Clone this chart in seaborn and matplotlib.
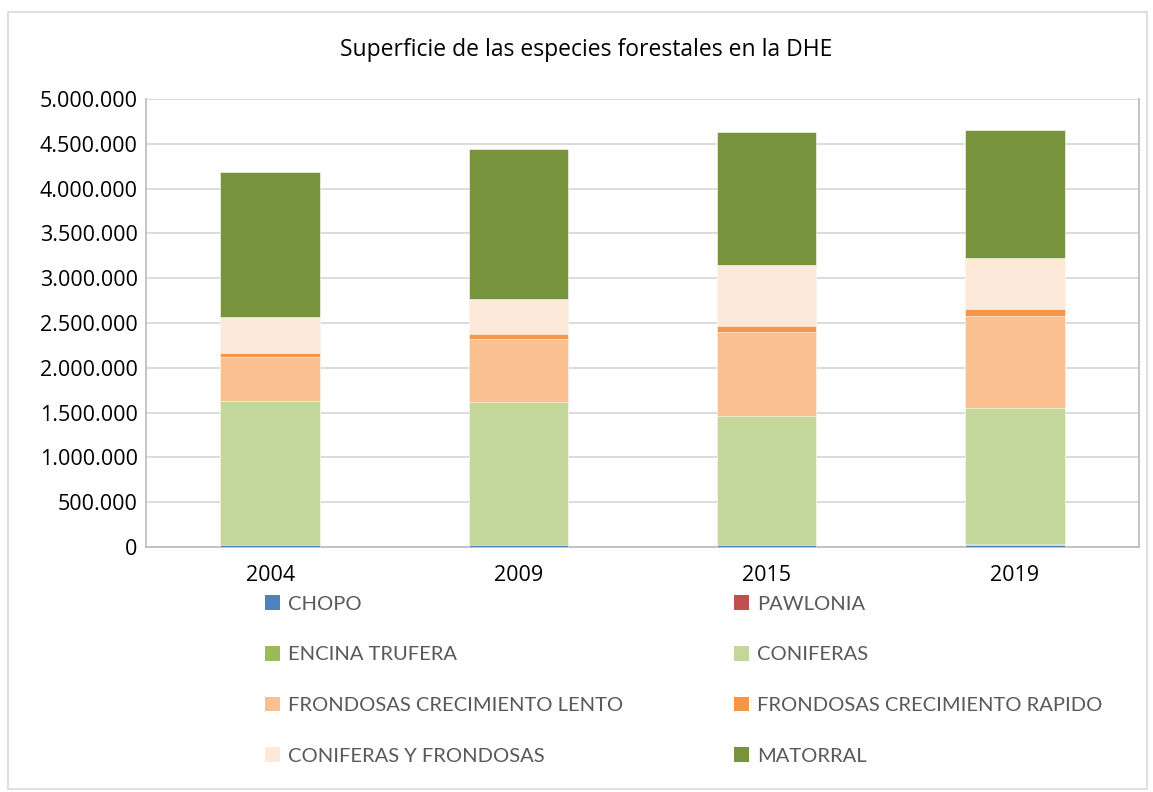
import pandas as pd
import matplotlib.pyplot as plt
import seaborn as sns
from matplotlib.patches import Patch, Rectangle
from matplotlib.ticker import FuncFormatter

# Data (ha)
years = ["2004", "2009", "2015", "2019"]
chopo = [20000, 20000, 20000, 22000]
pawlonia = [0, 0, 100, 200]
encina_trufera = [1000, 2000, 4000, 8000]
coniferas = [1610000, 1600000, 1442000, 1518000]
frond_lento = [494000, 696000, 937000, 1033000]
frond_rapido = [45000, 59000, 67000, 72000]
conif_frond = [395000, 391000, 677000, 569000]
matorral = [1621000, 1674000, 1485000, 1432000]

series_names = ["CHOPO", "PAWLONIA", "ENCINA TRUFERA", "CONIFERAS",
                "FRONDOSAS CRECIMIENTO LENTO", "FRONDOSAS CRECIMIENTO RAPIDO",
                "CONIFERAS Y FRONDOSAS", "MATORRAL"]
colors = ["#4F81BD", "#C0504D", "#9BBB59", "#C4D79B",
          "#FAC090", "#F79646", "#FDE9D9", "#77933C"]

df = pd.DataFrame({
    "CHOPO": chopo,
    "PAWLONIA": pawlonia,
    "ENCINA TRUFERA": encina_trufera,
    "CONIFERAS": coniferas,
    "FRONDOSAS CRECIMIENTO LENTO": frond_lento,
    "FRONDOSAS CRECIMIENTO RAPIDO": frond_rapido,
    "CONIFERAS Y FRONDOSAS": conif_frond,
    "MATORRAL": matorral,
}, index=years)
cum = df[series_names].cumsum(axis=1)

sns.set_style("white")
plt.rcParams["font.family"] = ["Open Sans", "DejaVu Sans"]

fig = plt.figure(figsize=(11.53, 7.92), dpi=100)
ax = fig.add_axes([0.1266, 0.3093, 0.8613, 0.5657])

# stacked bars: draw cumulative totals from top down
for name, col in reversed(list(zip(series_names, colors))):
    sns.barplot(x=years, y=cum[name].values, color=col, width=0.4, saturation=1,
                edgecolor="white", linewidth=0.4, ax=ax, zorder=3)

ax.set_ylim(0, 5000000)
ax.set_yticks(range(0, 5000001, 500000))
ax.yaxis.set_major_formatter(FuncFormatter(lambda v, p: f"{int(v):,}".replace(",", ".")))
ax.grid(axis="y", color="#D9D9D9", linewidth=1.3, zorder=0)
ax.set_axisbelow(True)
for side in ["left", "right", "bottom"]:
    ax.spines[side].set_color("#BFBFBF")
    ax.spines[side].set_linewidth(1.3)
ax.spines["top"].set_visible(False)
ax.tick_params(axis="both", length=0, labelsize=15.5, colors="black", pad=6)
ax.tick_params(axis="x", pad=13)
ax.set_xlabel("")
ax.set_ylabel("")

fig.text(0.5087, 0.937, "Superficie de las especies forestales en la DHE",
         ha="center", va="center", fontsize=16.5, color="black")

# legend filled row by row like the original
order = [0, 2, 4, 6, 1, 3, 5, 7]
handles = [Patch(facecolor=colors[i], edgecolor="none") for i in order]
labels = [series_names[i] for i in order]
fig.legend(handles, labels, ncol=2, loc="upper left",
           bbox_to_anchor=(0.2137, 0.2713), frameon=False,
           prop={"family": "Lato", "size": 14.5}, labelcolor="#595959",
           handlelength=0.75, handleheight=0.75, handletextpad=0.4,
           columnspacing=5.5, labelspacing=1.65)

fig.patches.append(Rectangle((0.007, 0.004), 0.988, 0.981, transform=fig.transFigure,
                             fill=False, edgecolor="#D9D9D9", linewidth=1.2))

plt.savefig("out.png", dpi=100)
